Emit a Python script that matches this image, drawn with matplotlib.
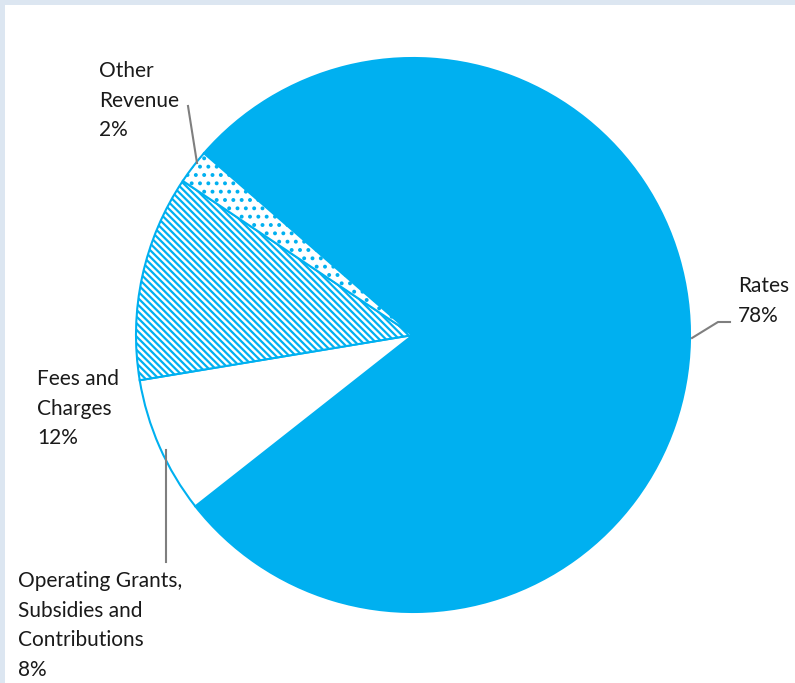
import matplotlib.pyplot as plt
from matplotlib.patches import Rectangle

plt.rcParams['font.family'] = ['Lato', 'DejaVu Sans']
plt.rcParams['hatch.linewidth'] = 1.6

labels = ['Rates', 'Operating Grants,\nSubsidies and\nContributions', 'Fees and\nCharges', 'Other\nRevenue']
shares = [78, 8, 12, 2]

blue = '#00B0F0'
W, H = 795, 683

fig = plt.figure(figsize=(W / 100, H / 100), dpi=100)
ax = fig.add_axes([0, 0, 1, 1])

# light frame on the top and left edges
ax.add_patch(Rectangle((0, H - 5), W, 5, color='#DCE6F1', lw=0))
ax.add_patch(Rectangle((0, 0), 5, H, color='#DCE6F1', lw=0))

wedges, _ = ax.pie(shares, center=(413, H - 335), radius=277, startangle=139,
                   counterclock=False, frame=True)
ax.set_xlim(0, W)
ax.set_ylim(0, H)
ax.set_aspect('equal')
ax.axis('off')

styles = [(blue, None), ('white', None), ('white', '\\\\\\\\\\'), ('white', '..')]
for w, (fc, hatch) in zip(wedges, styles):
    w.set_facecolor(fc)
    w.set_edgecolor(blue)
    w.set_linewidth(1.5)
    if hatch:
        w.set_hatch(hatch)

# label text with percentages (top of first line)
pos = [(738, 276), (18, 571), (37, 369), (99, 61)]
for lab, v, (x, y) in zip(labels, shares, pos):
    ax.text(x, H - y, f'{lab}\n{v}%', ha='left', va='top', fontsize=15,
            color='#1a1a1a', linespacing=1.6)

# leader lines
grey = '#7F7F7F'
ax.plot([692, 718, 730], [H - 338, H - 322, H - 322], color=grey, lw=1.5)
ax.plot([197, 188], [H - 163, H - 106], color=grey, lw=1.5)
ax.plot([166, 166], [H - 450, H - 562], color=grey, lw=1.5)

fig.savefig('out.png', dpi=100)
